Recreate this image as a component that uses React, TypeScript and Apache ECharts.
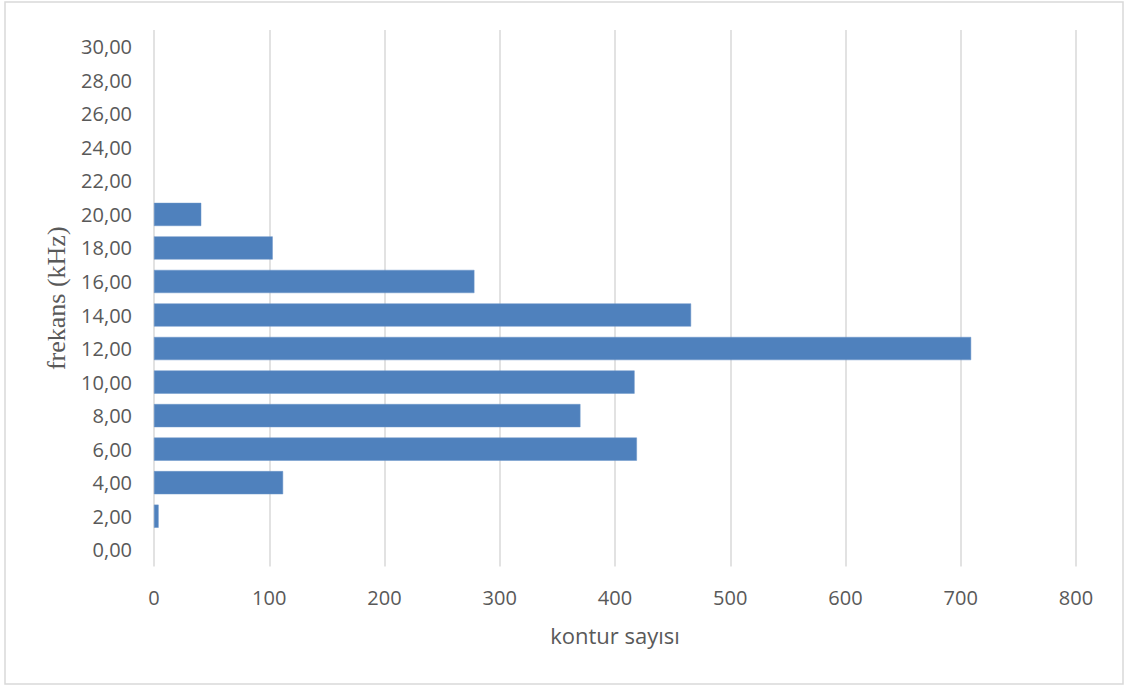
import React, { useEffect, useRef } from "react";
import * as echarts from "echarts";

// Frequency bins (kHz), bottom to top
const frequencies: number[] = [0, 2, 4, 6, 8, 10, 12, 14, 16, 18, 20, 22, 24, 26, 28, 30];
// Contour counts per frequency bin (null = no bar)
const contourCounts: (number | null)[] = [
  null, 4, 112, 419, 370, 417, 709, 466, 278, 103, 41, null, null, null, null, null,
];
const xTicks = { min: 0, max: 800, interval: 100 };

const frequencyLabels = frequencies.map((f) => f.toFixed(2).replace(".", ","));

export default function App() {
  const ref = useRef<HTMLDivElement>(null);

  useEffect(() => {
    document.body.style.margin = "0";
    if (!ref.current) return;
    const chart = echarts.init(ref.current, undefined, { renderer: "svg" });
    const textColor = "#595959";
    chart.setOption({
      animation: false,
      backgroundColor: "#ffffff",
      graphic: [
        {
          type: "rect",
          shape: { x: 5, y: 2, width: 1118, height: 682 },
          style: { fill: "none", stroke: "#d9d9d9", lineWidth: 1.5 },
          silent: true,
        },
      ],
      grid: { left: 154, right: 52, top: 30, bottom: 120.5, containLabel: false },
      xAxis: {
        type: "value",
        min: xTicks.min,
        max: xTicks.max,
        interval: xTicks.interval,
        name: "kontur sayısı",
        nameLocation: "middle",
        nameGap: 57,
        nameTextStyle: { color: textColor, fontFamily: "Open Sans", fontSize: 22 },
        axisLine: { show: false },
        axisTick: { show: false },
        axisLabel: { color: textColor, fontFamily: "Open Sans", fontSize: 20, margin: 21 },
        splitLine: { show: true, lineStyle: { color: "#d9d9d9", width: 1.5 } },
      },
      yAxis: {
        type: "category",
        data: frequencyLabels,
        name: "frekans (kHz)",
        nameLocation: "middle",
        nameGap: 85,
        nameRotate: 90,
        nameTextStyle: { color: textColor, fontFamily: "Liberation Serif", fontSize: 26 },
        axisLine: { show: false },
        axisTick: { show: false },
        axisLabel: { color: textColor, fontFamily: "Open Sans", fontSize: 20, margin: 22 },
        splitLine: { show: false },
      },
      series: [
        {
          type: "bar",
          data: contourCounts.map((v) => (v === null ? "-" : v)),
          barCategoryGap: "31%",
          itemStyle: { color: "#4f81bd", borderColor: "#6a95c9", borderWidth: 0.5 },
        },
      ],
    });
    return () => chart.dispose();
  }, []);

  return <div ref={ref} style={{ width: 1128, height: 687 }} />;
}
